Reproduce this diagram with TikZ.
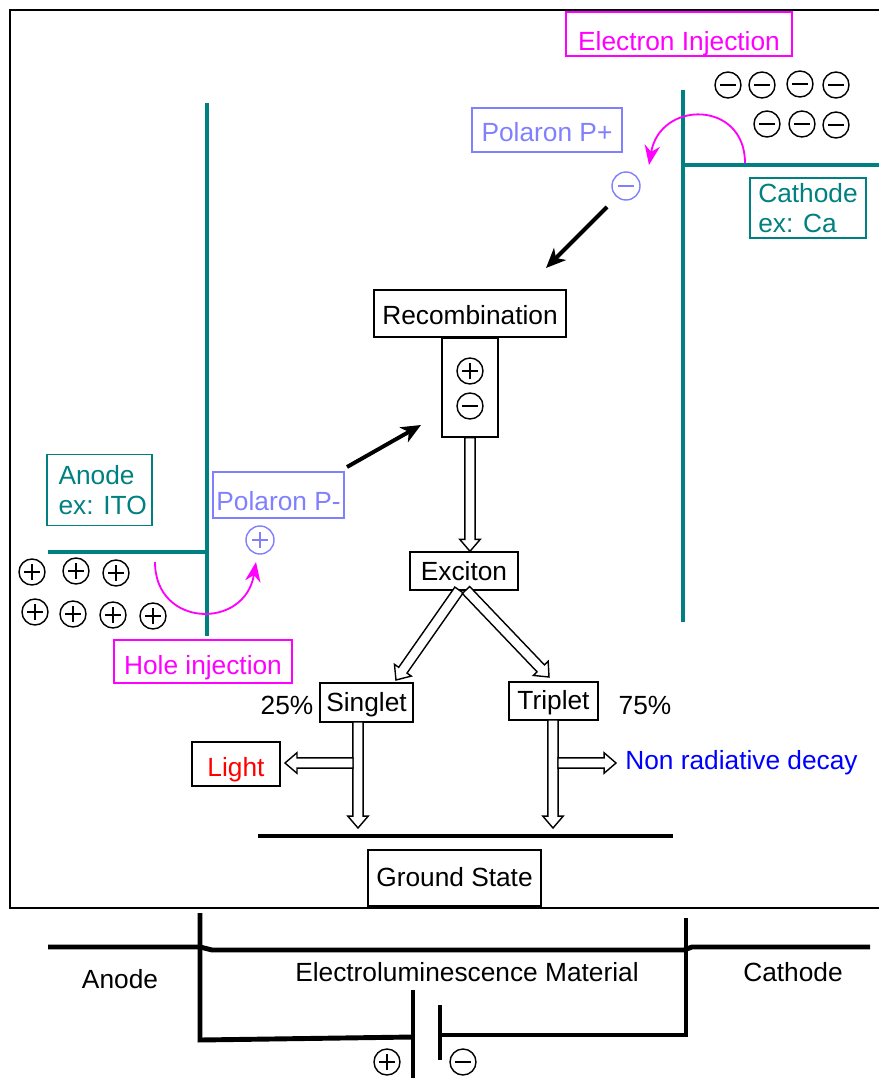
\documentclass[tikz,border=0pt]{standalone}
\usepackage{fontspec}
\setmainfont{Liberation Sans}
\usepackage{xcolor}
\usetikzlibrary{arrows.meta,calc,positioning}

\definecolor{elecol}{RGB}{0,128,128}
\definecolor{injcol}{RGB}{255,0,255}
\definecolor{polcol}{RGB}{128,128,255}

% one pixel of the drawing in pt
\newcommand\pix[1]{#1*0.7113pt}
% hollow block arrow from #1 to #2
\newcommand\fatarrow[2]{%
  \draw[fat] let \p1=($(#2)!8.5pt!(#1)$) in
    ($(#1)!3.6pt!90:(#2)$) -- ($(\p1)!3.6pt!90:(#2)$) -- ($(\p1)!7.3pt!90:(#2)$) -- (#2)
    -- ($(\p1)!7.3pt!270:(#2)$) -- ($(\p1)!3.6pt!270:(#2)$) -- ($(#1)!3.6pt!270:(#2)$) -- cycle;}

\tikzset{
  txt/.style={font=\fontsize{18.7}{21.5}\selectfont, inner sep=0pt},
  lbl/.style={txt, draw, line width=1pt},
  boxsize/.style 2 args={minimum width=\pix{#1}, minimum height=\pix{#2}},
  vs/.style={text height={(18.8+2*(#1))*0.7113pt}, text depth=0pt},
  electrode/.style={elecol, line width=3.5pt},
  chg/.style={circle, draw, line width=1pt, minimum size=\pix{26}, inner sep=0pt},
  poschg/.style={chg, path picture={\draw[line width=1pt] (path picture bounding box.center) +(-\pix{8},0) -- +(\pix{8},0) (path picture bounding box.center) +(0,-\pix{8}) -- +(0,\pix{8});}},
  negchg/.style={chg, path picture={\draw[line width=1pt] (path picture bounding box.center) +(-\pix{8},0) -- +(\pix{8},0);}},
  inject/.style={injcol, line width=1.3pt, -{Stealth[length=14pt, width=11pt]}},
  drift/.style={line width=2.8pt, -{Stealth[length=14pt, width=12pt, inset=4pt]}},
  fat/.style={line width=1pt, fill=white, line join=miter},
  wire/.style={line width=3.5pt},
}

\begin{document}
\begin{tikzpicture}[x=0.025cm, y=-0.025cm]
\useasboundingbox (0,0) rectangle (879,1078);
% Device frame
\draw[line width=1.4pt] (879,10) -- (10,10) -- (10,908) -- (879,908);

% Electrodes
\draw[electrode] (207,103) -- (207,636);
\draw[electrode] (48,552) -- (207,552);
\draw[electrode] (683,90) -- (683,622);
\draw[electrode] (683,165) -- (879,165);
\node[lbl, draw=elecol, text=elecol, align=left, boxsize={105}{71}] (anlab) at (99.5,490) {\hspace*{4.5pt}Anode\\\hspace*{4.5pt}ex: ITO};
\node[lbl, draw=elecol, text=elecol, align=left, boxsize={116}{60}] (catlab) at (808,208) {Cathode\\ex: Ca};

% Injection labels
\node[lbl, vs=7, draw=injcol, text=injcol, boxsize={226}{44}] (einj) at (679,34) {Electron Injection};
\node[lbl, vs=3.5, draw=injcol, text=injcol, boxsize={178}{43}] (hinj) at (203,661.5) {Hole injection};

% Electrons in the cathode
\node[negchg] (e1) at (728,85) {};
\node[negchg] (e2) at (762,85) {};
\node[negchg] (e3) at (800,84) {};
\node[negchg] (e4) at (836,85) {};
\node[negchg] (e5) at (767,124) {};
\node[negchg] (e6) at (802,124) {};
\node[negchg] (e7) at (836,125) {};

% Holes in the anode
\node[poschg] (h1) at (32,572) {};
\node[poschg] (h2) at (76,571) {};
\node[poschg] (h3) at (116,573) {};
\node[poschg] (h4) at (35,612) {};
\node[poschg] (h5) at (73,614) {};
\node[poschg] (h6) at (113,615) {};
\node[poschg] (h7) at (153,616) {};

% Polarons
\node[lbl, vs=2, draw=polcol, text=polcol, boxsize={150}{44}] (pplus) at (547,130) {Polaron P+};
\node[lbl, vs=6, draw=polcol, text=polcol, boxsize={131}{46}] (pminus) at (278.5,495) {Polaron P-};
\node[negchg, color=polcol, minimum size=\pix{28}] (pe) at (626,186) {};
\node[poschg, color=polcol, minimum size=\pix{28}] (ph) at (260,540) {};

% Injection arcs
\draw[inject] (745,163) .. controls (745,100) and (660,100) .. (649,165);
\draw[inject] (155,562) .. controls (155,628) and (245,630) .. (256,562);

% Recombination
\node[lbl, vs=1.5, boxsize={192}{47}] (rec) at (470,313.5) {Recombination};
\node[lbl, boxsize={56}{99}] (pair) at (470,387.5) {};
\node[poschg] (rp) at (470,371) {};
\node[negchg] (rn) at (470,406) {};
\coordinate (pes) at (607,207);
\coordinate (pet) at (546,268);
\coordinate (phs) at (347,467);
\coordinate (pht) at (421,425);
\draw[drift] (pes) -- (pet);
\draw[drift] (phs) -- (pht);

% Exciton and its decay
\node[lbl, vs=0, boxsize={108}{38}] (exc) at (464,571) {Exciton};
\node[lbl, vs=0, boxsize={93}{39}] (sing) at (366.5,702.5) {Singlet};
\node[lbl, vs=-1, boxsize={89}{38}] (trip) at (553.5,701) {Triplet};
\node[txt] (sp) at (287,705) {25\%};
\node[txt] (tp) at (645,705) {75\%};
\node[lbl, vs=3, text=red, boxsize={88}{44}] (light) at (236,764) {Light};
\node[txt, text=blue, anchor=west] (nrd) at (625,763) {Non radiative decay};
\fatarrow{pair.south}{pair.south |- exc.north}
\coordinate (xl) at (459,590);
\coordinate (sl) at (396,680);
\coordinate (xr) at (466,590);
\coordinate (tr) at (549,677);
\fatarrow{xl}{sl}
\fatarrow{xr}{tr}
\coordinate (s0) at (358,722);
\coordinate (s1) at (358,828);
\coordinate (s2) at (353,763);
\coordinate (s3) at (285,763);
\coordinate (t0) at (553,720);
\coordinate (t1) at (553,828);
\coordinate (t2) at (558,763);
\coordinate (t3) at (616,763);
\fatarrow{s0}{s1}
\fatarrow{s2}{s3}
\fatarrow{t0}{t1}
\fatarrow{t2}{t3}

% Ground state
\draw[line width=2.8pt] (258,836) -- (673,836);
\node[lbl, vs=-1, boxsize={173}{56}] (gs) at (454.5,878) {Ground State};

% Circuit below the device
\draw[wire] (48,947) -- (200,947) -- (212,950) -- (684,950) -- (692,947) -- (870,947);
\draw[wire] (200,913) -- (200,1040) -- (413,1037);
\draw[wire] (686,918) -- (686,1035) -- (440,1035);
\draw[wire] (413,990) -- (413,1078);
\draw[wire] (440,1005) -- (440,1060);
\node[poschg] (bp) at (387,1062) {};
\node[negchg] (bn) at (463,1062) {};
\node[txt] (an) at (120,979) {Anode};
\node[txt] (elm) at (467,972) {Electroluminescence Material};
\node[txt] (cat) at (793,972) {Cathode};
\end{tikzpicture}
\end{document}
